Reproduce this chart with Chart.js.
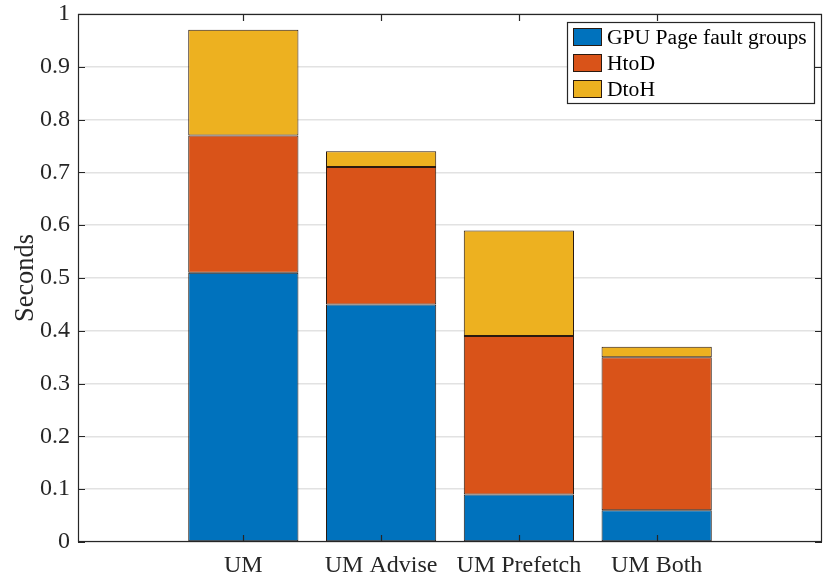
<!DOCTYPE html>
<html>
<head>
<meta charset="utf-8">
<script src="https://cdn.jsdelivr.net/npm/chart.js@4/dist/chart.umd.min.js"></script>
<style>
html,body{margin:0;padding:0;background:#fff;}
#wrap{width:830px;height:577px;position:relative;}
</style>
</head>
<body>
<div id="wrap"><canvas id="c" width="830" height="577"></canvas></div>
<script>
const categories = ["UM", "UM Advise", "UM Prefetch", "UM Both"];
const seriesNames = ["GPU Page fault groups", "HtoD", "DtoH"];
const gpuFault = [0.51, 0.45, 0.09, 0.06];
const htod = [0.26, 0.26, 0.30, 0.29];
const dtoh = [0.20, 0.03, 0.20, 0.02];
const yTicks = [0, 0.1, 0.2, 0.3, 0.4, 0.5, 0.6, 0.7, 0.8, 0.9, 1];
const colors = ["#0072BD", "#D95319", "#EDB120"];

const FONT = "'Liberation Serif', 'Times New Roman', serif";
const TXT = "#262626";
const xPos = categories.map((c, i) => i + 1);

function mk(vals, i) {
  return {
    label: seriesNames[i],
    data: vals.map((v, k) => ({x: xPos[k], y: v})),
    backgroundColor: colors[i],
    borderColor: "#2a1a10",
    borderWidth: 1,
    borderSkipped: false,
    barPercentage: 0.8,
    categoryPercentage: 1.0
  };
}

const framePlugin = {
  id: "frame",
  afterDraw(chart) {
    const ctx = chart.ctx, a = chart.chartArea;
    const xs = chart.scales.x, ys = chart.scales.y;
    ctx.save();
    ctx.strokeStyle = TXT;
    ctx.lineWidth = 1.2;
    ctx.strokeRect(a.left + 0.5, a.top + 0.5, a.right - a.left - 1, a.bottom - a.top - 1);
    const L = 7;
    ctx.beginPath();
    yTicks.forEach(v => {
      const y = Math.round(ys.getPixelForValue(v)) + 0.5;
      ctx.moveTo(a.left, y); ctx.lineTo(a.left + L, y);
      ctx.moveTo(a.right, y); ctx.lineTo(a.right - L, y);
    });
    xPos.forEach(v => {
      const x = Math.round(xs.getPixelForValue(v)) + 0.5;
      ctx.moveTo(x, a.bottom); ctx.lineTo(x, a.bottom - L);
      ctx.moveTo(x, a.top); ctx.lineTo(x, a.top + L);
    });
    ctx.stroke();

    // legend
    const bx = 567, by = 22, bw = 247, bh = 81;
    ctx.fillStyle = "#fff";
    ctx.fillRect(bx, by, bw, bh);
    ctx.lineWidth = 1.2;
    ctx.strokeStyle = TXT;
    ctx.strokeRect(bx + 0.5, by + 0.5, bw, bh);
    ctx.font = "21.6px " + FONT;
    ctx.textBaseline = "middle";
    ctx.textAlign = "left";
    seriesNames.forEach((n, i) => {
      const cy = 37 + i * 26;
      ctx.fillStyle = colors[i];
      ctx.fillRect(573, cy - 9, 29, 18);
      ctx.lineWidth = 1;
      ctx.strokeStyle = "#2a1a10";
      ctx.strokeRect(573.5, cy - 8.5, 28, 17);
      ctx.fillStyle = "#000";
      ctx.fillText(n, 607, cy + 1);
    });
    ctx.restore();
  }
};

new Chart(document.getElementById("c"), {
  type: "bar",
  data: { datasets: [mk(gpuFault, 0), mk(htod, 1), mk(dtoh, 2)] },
  options: {
    responsive: false,
    animation: false,
    devicePixelRatio: 1,
    layout: { padding: { top: 14, right: 8, left: 0, bottom: 0 } },
    plugins: { legend: { display: false }, tooltip: { enabled: false } },
    scales: {
      x: {
        type: "linear",
        stacked: true,
        min: -0.2,
        max: 5.2,
        offset: false,
        afterBuildTicks(s) { s.ticks = xPos.map(v => ({value: v})); },
        afterFit(s) { s.height = 35; s.paddingLeft = 0; s.paddingRight = 0; },
        grid: { display: false, drawTicks: false },
        border: { display: false },
        ticks: {
          autoSkip: false,
          maxRotation: 0,
          padding: 9,
          color: TXT,
          font: { family: FONT, size: 24 },
          callback: (v) => categories[Math.round(v) - 1] || ""
        }
      },
      y: {
        stacked: true,
        min: 0,
        max: 1,
        afterBuildTicks(s) { s.ticks = yTicks.map(v => ({value: v})); },
        afterFit(s) { s.width = 78; s.paddingTop = 0; s.paddingBottom = 0; },
        grid: { color: "#e2e2e2", lineWidth: 1.5, drawTicks: false },
        border: { display: false },
        ticks: {
          padding: 8,
          color: TXT,
          font: { family: FONT, size: 24 },
          callback: (v) => String(Number(v.toFixed(1)))
        },
        title: {
          display: true,
          text: "Seconds",
          color: TXT,
          font: { family: FONT, size: 26.4 },
          padding: { top: 10, bottom: 0 }
        }
      }
    }
  },
  plugins: [framePlugin]
});
</script>
</body>
</html>
